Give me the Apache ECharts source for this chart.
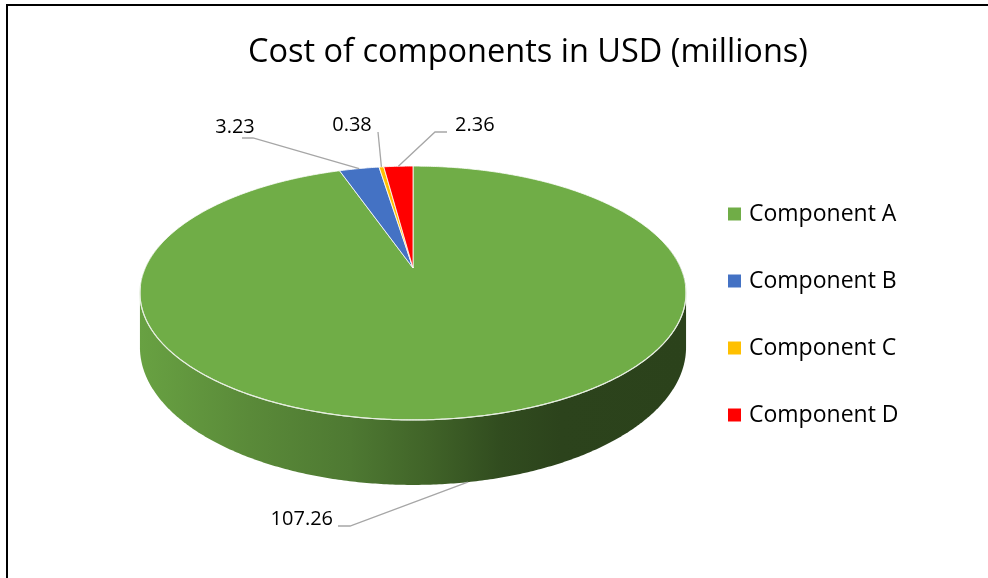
<!DOCTYPE html>
<html><head><meta charset="utf-8">
<script src="https://cdn.jsdelivr.net/npm/echarts@6.0.0/dist/echarts.min.js"></script>
<style>html,body{margin:0;padding:0;background:#fff}#c{width:988px;height:578px}</style>
</head><body><div id="c"></div><script>
// ---- data ----
const chartTitle = 'Cost of components in USD (millions)';
const categories = ['Component A', 'Component B', 'Component C', 'Component D'];
const values = [107.26, 3.23, 0.38, 2.36];
const labelTexts = ['107.26', '3.23', '0.38', '2.36'];

// ---- style / layout ----
const colors = ['#70AD47', '#4472C4', '#FFC000', '#FF0000'];
const FONT = 'Open Sans';
// perspective pie geometry: centre, radii, perspective factor, wall depth
const GEO = { cx: 413, cy: 268, rx: 267.7, ry: 122, k: 0.197, depth: 52.2 };
const LABEL_LAYOUT = [
  { path: [[350, 526], [338, 526]], text: [333, 519], align: 'right' },
  { path: [[253, 138], [242, 138]], text: [235, 127], align: 'center' },
  { path: [[378, 132]], text: [352, 125], align: 'center' },
  { path: [[435, 132], [447, 132]], text: [455, 125], align: 'left' }
];
const SHADE_STOPS = [[0, 0.93], [0.2, 0.8], [0.385, 0.70], [0.53, 0.57], [0.66, 0.44], [0.77, 0.39], [1, 0.38]];

const total = values.reduce((a, b) => a + b, 0);
function pt(deg, bottom) {
  const r = deg * Math.PI / 180;
  const u = Math.sin(r), w = -Math.cos(r);
  const s = 1 / (1 - GEO.k * w);
  return [GEO.cx + GEO.rx * u * s, GEO.cy + (GEO.ry * w + (bottom ? GEO.depth : 0)) * s];
}
function arc(a0, a1, bottom) {
  const n = Math.max(2, Math.ceil(Math.abs(a1 - a0) / 0.5));
  const out = [];
  for (let k = 0; k <= n; k++) out.push(pt(a0 + (a1 - a0) * k / n, bottom));
  return out;
}
function hull(points) {
  const p = points.slice().sort((a, b) => a[0] - b[0] || a[1] - b[1]);
  const cross = (o, a, b) => (a[0] - o[0]) * (b[1] - o[1]) - (a[1] - o[1]) * (b[0] - o[0]);
  const lower = [], upper = [];
  for (const q of p) { while (lower.length >= 2 && cross(lower[lower.length - 2], lower[lower.length - 1], q) <= 0) lower.pop(); lower.push(q); }
  for (let i = p.length - 1; i >= 0; i--) { const q = p[i]; while (upper.length >= 2 && cross(upper[upper.length - 2], upper[upper.length - 1], q) <= 0) upper.pop(); upper.push(q); }
  upper.pop(); lower.pop();
  return lower.concat(upper);
}
function shade(hex, f) {
  const n = parseInt(hex.slice(1), 16);
  const r = Math.round(((n >> 16) & 255) * f), g = Math.round(((n >> 8) & 255) * f), b = Math.round((n & 255) * f);
  return 'rgb(' + r + ',' + g + ',' + b + ')';
}
function sideGradient(color) {
  return {
    type: 'linear', x: GEO.cx - GEO.rx * 1.02, y: 0, x2: GEO.cx + GEO.rx * 1.02, y2: 0, global: true,
    colorStops: SHADE_STOPS.map(s => ({ offset: s[0], color: shade(color, s[1]) }))
  };
}

function renderSlice(params, api) {
  const i = params.seriesIndex;
  const v = api.value(0);
  let before = 0;
  for (let k = 0; k < i; k++) before += values[k];
  const a0 = before / total * 360, a1 = (before + v) / total * 360, mid = (a0 + a1) / 2;
  const children = [];
  const s0 = Math.max(a0, 80), s1 = Math.min(a1, 280);
  if (s1 > s0) {
    const wall = hull(arc(s0, s1, false).concat(arc(s0, s1, true)));
    children.push({ type: 'polygon', z2: 1, shape: { points: wall }, style: { fill: sideGradient(colors[i]) } });
    const r0 = Math.max(a0, 98), r1 = Math.min(a1, 262);
    if (r1 > r0) children.push({ type: 'polyline', z2: 6, shape: { points: arc(r0, r1, false) }, style: { stroke: '#e6eee0', lineWidth: 1.2, fill: null } });
  }
  children.push({
    type: 'polygon', z2: 5,
    shape: { points: [[GEO.cx, GEO.cy]].concat(arc(a0, a1, false)) },
    style: { fill: colors[i], stroke: '#ffffff', lineWidth: 0.8, lineJoin: 'round' }
  });
  const inFront = mid > 90 && mid < 270;
  const anchor = pt(mid, inFront);
  const L = LABEL_LAYOUT[i];
  children.push({
    type: 'polyline', z2: 10,
    shape: { points: [anchor].concat(L.path) },
    style: { stroke: '#a6a6a6', lineWidth: 1.3, fill: null }
  });
  children.push({
    type: 'text', z2: 11, x: L.text[0], y: L.text[1],
    style: {
      text: labelTexts[i], fill: '#000', fontSize: 20, fontFamily: FONT,
      align: L.align, verticalAlign: 'middle', textAlign: L.align, textVerticalAlign: 'middle'
    }
  });
  return { type: 'group', children };
}

const chart = echarts.init(document.getElementById('c'), null, { renderer: 'canvas' });
chart.setOption({
  animation: false,
  backgroundColor: '#ffffff',
  title: {
    text: chartTitle, left: 248, top: 36, padding: 0,
    textStyle: { fontFamily: FONT, fontSize: 32.5, fontWeight: 'normal', color: '#000' }
  },
  legend: {
    orient: 'vertical', left: 728, top: 202, padding: 0, itemWidth: 13, itemHeight: 13, itemGap: 43,
    icon: 'rect', selectedMode: false, data: categories,
    textStyle: { fontFamily: FONT, fontSize: 23, color: '#000', lineHeight: 24, padding: [0, 0, 0, 3] }
  },
  graphic: [
    { type: 'line', shape: { x1: 7, y1: 4, x2: 7, y2: 578 }, style: { stroke: '#000', lineWidth: 2 } },
    { type: 'line', shape: { x1: 6, y1: 5, x2: 988, y2: 5 }, style: { stroke: '#000', lineWidth: 2 } }
  ],
  series: categories.map((name, i) => ({
    type: 'custom', name: name, coordinateSystem: 'none',
    itemStyle: { color: colors[i] },
    renderItem: renderSlice,
    data: [values[i]]
  }))
});
</script></body></html>
